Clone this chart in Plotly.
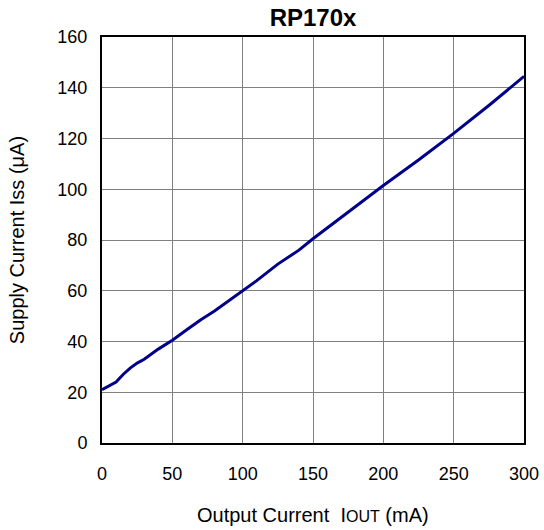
import plotly.graph_objects as go

iout = [0, 5, 10, 15, 20, 25, 30, 40, 50, 60, 70, 80, 90, 100, 110, 125, 140, 150, 175, 200, 225, 250, 275, 300]
iss = [21, 22.5, 24, 27, 29.5, 31.5, 33, 37, 40.5, 44.5, 48.5, 52, 56, 60, 64, 70.5, 76, 80.5, 91, 101.5, 111.5, 122, 133, 144.5]

fig = go.Figure()
fig.add_trace(go.Scatter(x=iout, y=iss, mode="lines",
                         line=dict(color="#00008B", width=3), showlegend=False))

font = "Liberation Sans, Arial, sans-serif"
W, H = 544, 530
fig.update_layout(
    width=W, height=H,
    margin=dict(l=102, r=20, t=37, b=87, autoexpand=False),
    paper_bgcolor="white", plot_bgcolor="white",
    font=dict(family=font, color="black"),
    title=dict(text="<b>RP170x</b>", x=0.5, xanchor="center", xref="paper",
               yref="container", y=1 - 18 / H, yanchor="middle",
               font=dict(size=24, family=font, color="black")),
    xaxis=dict(range=[0, 300], dtick=50, tickfont=dict(size=18), automargin=False,
               showgrid=True, gridcolor="#808080", gridwidth=1,
               showline=True, linecolor="black", linewidth=2, mirror=True,
               ticks="", zeroline=False, ticklabelstandoff=13),
    yaxis=dict(range=[0, 160], dtick=20, tickfont=dict(size=18), automargin=False,
               showgrid=True, gridcolor="#808080", gridwidth=1,
               showline=True, linecolor="black", linewidth=2, mirror=True,
               ticks="", zeroline=False, ticklabelstandoff=9),
    annotations=[
        dict(text="Output Current  I<span style='font-size:16px'>OUT</span> (mA)",
             xref="paper", yref="paper", x=0.5, y=-0.177, xanchor="center", yanchor="middle",
             showarrow=False, font=dict(size=20)),
        dict(text="Supply Current Iss (μA)", textangle=-90,
             xref="paper", yref="paper", x=-0.201, y=0.5, xanchor="center", yanchor="middle",
             showarrow=False, font=dict(size=20)),
    ],
)
fig.write_html("out.html", config={"displayModeBar": False},
               post_script="document.body.style.margin='0';document.body.style.overflow='hidden';")
